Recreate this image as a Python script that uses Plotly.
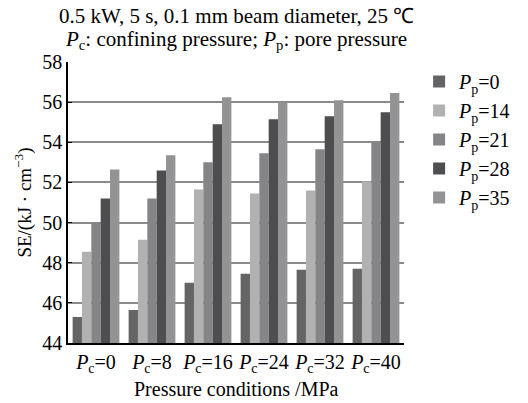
import plotly.graph_objects as go

categories = ["<i>P</i><sub>c</sub>=0", "<i>P</i><sub>c</sub>=8", "<i>P</i><sub>c</sub>=16",
              "<i>P</i><sub>c</sub>=24", "<i>P</i><sub>c</sub>=32", "<i>P</i><sub>c</sub>=40"]
series_names = ["<i>P</i><sub>p</sub>=0", "<i>P</i><sub>p</sub>=14", "<i>P</i><sub>p</sub>=21",
                "<i>P</i><sub>p</sub>=28", "<i>P</i><sub>p</sub>=35"]
pp0 = [45.3, 45.65, 47.0, 47.45, 47.65, 47.7]
pp14 = [48.55, 49.15, 51.65, 51.45, 51.6, 52.05]
pp21 = [50.0, 51.2, 53.0, 53.45, 53.65, 54.0]
pp28 = [51.2, 52.6, 54.9, 55.15, 55.3, 55.5]
pp35 = [52.65, 53.35, 56.25, 56.0, 56.1, 56.45]
series_values = [pp0, pp14, pp21, pp28, pp35]
colors = ["#646466", "#b1b1b1", "#858587", "#4e4e50", "#939395"]
y_ticks = [44, 46, 48, 50, 52, 54, 56, 58]
title_lines = ["0.5 kW, 5 s, 0.1 mm beam diameter, 25 ℃",
               "<i>P</i><sub>c</sub>: confining pressure; <i>P</i><sub>p</sub>: pore pressure"]
x_title = "Pressure conditions /MPa"

FONT = "Liberation Serif, Times New Roman, serif"

fig = go.Figure()
for i, (name, vals, c) in enumerate(zip(series_names, series_values, colors)):
    fig.add_trace(go.Bar(x=categories, y=vals, name=name, legendgroup=f"g{i}",
                         marker=dict(color=c, line=dict(width=0))))

fig.update_layout(
    width=528, height=403,
    margin=dict(l=68, r=93, t=62, b=60),
    paper_bgcolor="white", plot_bgcolor="white",
    barmode="group", bargap=0.165, bargroupgap=0,
    font=dict(family=FONT, size=18, color="black"),
    legend=dict(x=1.045, y=1.0, xanchor="left", yanchor="top", bgcolor="rgba(0,0,0,0)",
                font=dict(family=FONT, size=20), tracegroupgap=0, itemwidth=30,
                traceorder="normal"),
    showlegend=True,
)
for k, line in enumerate(title_lines):
    fig.add_annotation(text=line, xref="paper", yref="paper", x=0.5, y=1.0,
                       xanchor="center", yanchor="middle", yshift=46 - 24 * k,
                       showarrow=False, font=dict(family=FONT, size=21))
fig.add_annotation(text=x_title, xref="paper", yref="paper", x=0.5, y=0.0,
                   xanchor="center", yanchor="middle", yshift=-46,
                   showarrow=False, font=dict(family=FONT, size=20))
fig.update_xaxes(showline=True, linecolor="black", linewidth=1.5, ticks="", showgrid=False,
                 tickangle=0, automargin=False, ticklabelstandoff=0,
                 tickfont=dict(family=FONT, size=20))
fig.update_yaxes(range=[44, 58], tickvals=y_ticks, showline=True, linecolor="black", linewidth=1.5,
                 showgrid=True, gridcolor="#8a8a8a", gridwidth=1.5, ticks="inside", ticklen=4,
                 tickcolor="black", zeroline=False, automargin=False,
                 title=dict(text="SE/(kJ · cm<sup>−3</sup>)", standoff=6, font=dict(family=FONT, size=19)),
                 tickfont=dict(family=FONT, size=20))

fig.write_html("out.html")
